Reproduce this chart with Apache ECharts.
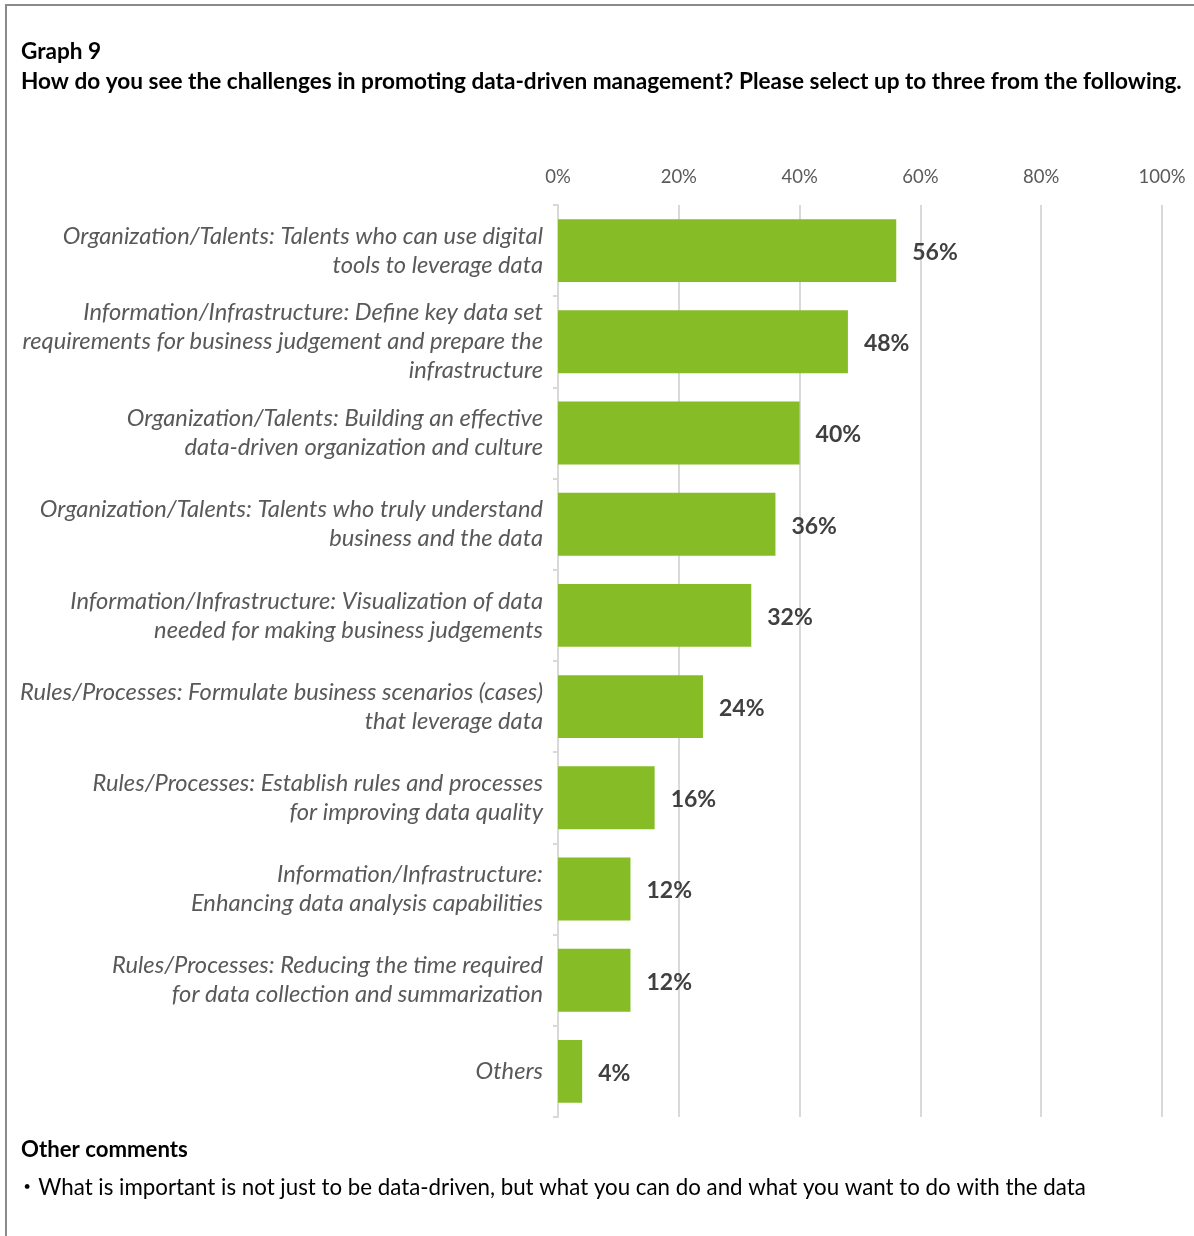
<!DOCTYPE html>
<html>
<head>
<meta charset="utf-8">
<script src="https://cdn.jsdelivr.net/npm/echarts@6/dist/echarts.min.js"></script>
<style>
  html, body { margin: 0; padding: 0; background: #ffffff; }
  #chart { width: 1194px; height: 1236px; }
</style>
</head>
<body>
<div id="chart"></div>
<script>
// Survey answers (share of respondents, %), top to bottom
const categories = [
  'Organization/Talents: Talents who can use digital\ntools to leverage data',
  'Information/Infrastructure: Define key data set\nrequirements for business judgement and prepare the\ninfrastructure',
  'Organization/Talents: Building an effective\ndata-driven organization and culture',
  'Organization/Talents: Talents who truly understand\nbusiness and the data',
  'Information/Infrastructure: Visualization of data\nneeded for making business judgements',
  'Rules/Processes: Formulate business scenarios (cases)\nthat leverage data',
  'Rules/Processes: Establish rules and processes\nfor improving data quality',
  'Information/Infrastructure:\nEnhancing data analysis capabilities',
  'Rules/Processes: Reducing the time required\nfor data collection and summarization',
  'Others'
];
const values = [56, 48, 40, 36, 32, 24, 16, 12, 12, 4];
const axisTicks = [0, 20, 40, 60, 80, 100];

const titleLines = [
  'Graph 9',
  'How do you see the challenges in promoting data-driven management? Please select up to three from the following.'
];
const commentHeading = 'Other comments';
const comments = [
  '・What is important is not just to be data-driven, but what you can do and what you want to do with the data'
];

const FONT = 'Lato, "Open Sans", sans-serif';
const BULLET_FONT = 'Lato, "Noto Sans CJK JP", sans-serif';

const chart = echarts.init(document.getElementById('chart'), null, { renderer: 'canvas' });

chart.setOption({
  backgroundColor: '#ffffff',
  animation: false,
  title: {
    text: titleLines.join('\n'),
    left: 21,
    top: 37,
    padding: 0,
    textStyle: {
      fontFamily: FONT,
      fontSize: 22.6,
      fontWeight: 'bold',
      color: '#000000',
      lineHeight: 30
    }
  },
  grid: {
    left: 558,
    right: 32,
    top: 205,
    bottom: 119,
    containLabel: false
  },
  xAxis: {
    type: 'value',
    position: 'top',
    min: axisTicks[0],
    max: axisTicks[axisTicks.length - 1],
    interval: axisTicks[1] - axisTicks[0],
    axisLine: { show: false },
    axisTick: { show: false },
    axisLabel: {
      formatter: '{value}%',
      margin: 18,
      fontFamily: FONT,
      fontSize: 18.5,
      color: '#595959'
    },
    splitLine: {
      show: true,
      lineStyle: { color: '#d9d9d9', width: 2 }
    }
  },
  yAxis: {
    type: 'category',
    inverse: true,
    data: categories,
    axisLine: { show: true, lineStyle: { color: '#d9d9d9', width: 2 } },
    axisTick: { show: true, length: 5, lineStyle: { color: '#d9d9d9', width: 2 } },
    axisLabel: {
      margin: 15,
      fontFamily: FONT,
      fontStyle: 'italic',
      fontSize: 23.7,
      lineHeight: 29,
      color: '#595959',
      align: 'right'
    }
  },
  series: [{
    type: 'bar',
    data: values,
    barCategoryGap: '31%',
    itemStyle: { color: '#86bc25' },
    label: {
      show: true,
      position: 'right',
      distance: 16,
      offset: [0, 2],
      formatter: '{c}%',
      fontFamily: FONT,
      fontSize: 23,
      fontWeight: 'bold',
      color: '#404040'
    }
  }],
  graphic: [
    {
      type: 'rect',
      shape: { x: 6, y: 5, width: 1300, height: 1400 },
      style: { fill: null, stroke: '#8a8a8a', lineWidth: 2 },
      silent: true
    },
    {
      type: 'text',
      left: 21,
      top: 1139,
      style: {
        text: commentHeading,
        fontFamily: FONT,
        fontSize: 22.2,
        fontWeight: 'bold',
        fill: '#000000'
      }
    },
    {
      type: 'text',
      left: 16,
      top: 1177,
      style: {
        text: comments.join('\n'),
        fontFamily: BULLET_FONT,
        fontSize: 22.3,
        fill: '#000000'
      }
    }
  ]
});
</script>
</body>
</html>
